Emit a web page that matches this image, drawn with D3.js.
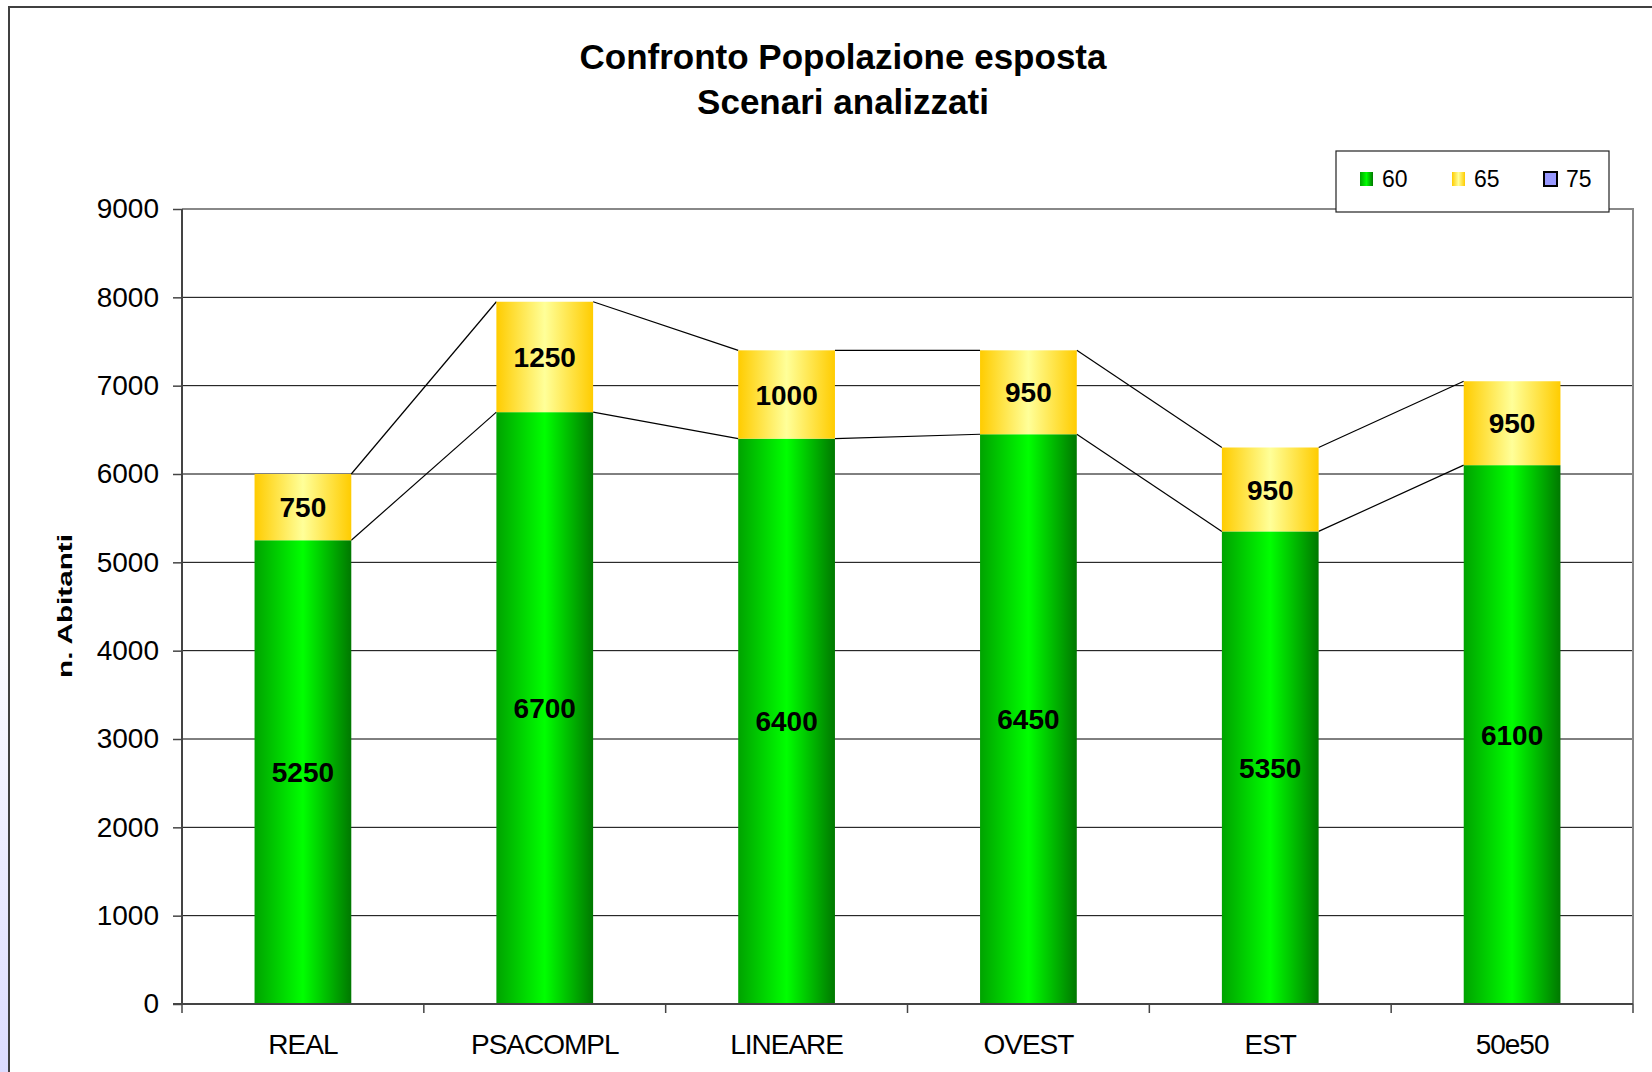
<!DOCTYPE html>
<html>
<head>
<meta charset="utf-8">
<script src="https://cdn.jsdelivr.net/npm/d3@7"></script>
<style>
  html, body { margin: 0; padding: 0; background: #fff; }
  svg { display: block; font-family: "Liberation Sans", Arial, sans-serif; }
</style>
</head>
<body>
<svg id="chart" width="1652" height="1072"></svg>
<script>
// data
var categories = ['REAL', 'PSACOMPL', 'LINEARE', 'OVEST', 'EST', '50e50'];
var serie60 = [5250, 6700, 6400, 6450, 5350, 6100];
var serie65 = [750, 1250, 1000, 950, 950, 950];
var serie75 = [0, 0, 0, 0, 0, 0];
var seriesNames = ['60', '65', '75'];
var yTicks = [0, 1000, 2000, 3000, 4000, 5000, 6000, 7000, 8000, 9000];

var svg = d3.select('#chart');
var W = 1652, H = 1072;
var plot = {left: 182, right: 1633, top: 209, bottom: 1004};

var defs = svg.append('defs');

function hGrad(id, stops){
    var g = defs.append('linearGradient').attr('id', id)
        .attr('x1', '0%').attr('x2', '100%').attr('y1', '0%').attr('y2', '0%');
    stops.forEach(function(s){
        g.append('stop').attr('offset', s[0]).attr('stop-color', s[1]);
    });
}
hGrad('gGreen', [['0%', '#00a300'], ['50%', '#00ff00'], ['100%', '#007800']]);
hGrad('gYellow', [['0%', '#ffcc00'], ['50%', '#ffff99'], ['100%', '#ffcc00']]);

var side = defs.append('linearGradient').attr('id', 'gSide')
    .attr('x1', '0%').attr('x2', '0%').attr('y1', '0%').attr('y2', '100%');
side.append('stop').attr('offset', '55%').attr('stop-color', '#ffffff');
side.append('stop').attr('offset', '100%').attr('stop-color', '#dcdcff');

// side strip + outer frame
svg.append('rect').attr('x', 0).attr('y', 0).attr('width', 9).attr('height', H)
    .attr('fill', 'url(#gSide)');
svg.append('path')
    .attr('d', 'M9,' + H + 'V7H' + W)
    .attr('fill', 'none').attr('stroke', '#404040').attr('stroke-width', 2);

// title
var title = svg.append('text').attr('text-anchor', 'middle')
    .attr('font-weight', 'bold').attr('font-size', 35).attr('fill', '#000');
title.append('tspan').attr('x', 843).attr('y', 69).text('Confronto Popolazione esposta');
title.append('tspan').attr('x', 843).attr('y', 114).text('Scenari analizzati');

// scales
var x = d3.scaleBand().domain(categories).range([plot.left, plot.right])
    .paddingInner(0.6).paddingOuter(0.3);
var y = d3.scaleLinear().domain([0, 9000]).range([plot.bottom, plot.top]);

// gridlines
svg.append('g').selectAll('line').data(yTicks.slice(1, -1)).enter().append('line')
    .attr('x1', plot.left).attr('x2', plot.right)
    .attr('y1', function(d){ return y(d); }).attr('y2', function(d){ return y(d); })
    .attr('stroke', '#000').attr('stroke-width', 1);

// plot area top/right border
svg.append('path')
    .attr('d', 'M' + plot.left + ',' + plot.top + 'H' + plot.right + 'V' + plot.bottom)
    .attr('fill', 'none').attr('stroke', '#888').attr('stroke-width', 2);

// stacked data
var rows = categories.map(function(c, i){
    return {cat: c, v60: serie60[i], v65: serie65[i], v75: serie75[i]};
});
var stack = d3.stack().keys(['v60', 'v65'])(rows);
var fills = ['url(#gGreen)', 'url(#gYellow)'];

// series lines
stack.forEach(function(layer){
    var segs = [];
    for (var i = 0; i < layer.length - 1; i++) {
        var a = layer[i], b = layer[i + 1];
        segs.push([[x(a.data.cat) + x.bandwidth(), y(a[1])], [x(b.data.cat), y(b[1])]]);
    }
    svg.append('g').selectAll('line').data(segs).enter().append('line')
        .attr('x1', function(s){ return s[0][0]; }).attr('y1', function(s){ return s[0][1]; })
        .attr('x2', function(s){ return s[1][0]; }).attr('y2', function(s){ return s[1][1]; })
        .attr('stroke', '#000').attr('stroke-width', 1.2);
});

// bars
stack.forEach(function(layer, li){
    svg.append('g').selectAll('rect').data(layer).enter().append('rect')
        .attr('x', function(d){ return x(d.data.cat); })
        .attr('width', x.bandwidth())
        .attr('y', function(d){ return y(d[1]); })
        .attr('height', function(d){ return y(d[0]) - y(d[1]); })
        .attr('fill', fills[li]);
});

// data labels
stack.forEach(function(layer){
    svg.append('g').selectAll('text').data(layer).enter().append('text')
        .attr('x', function(d){ return x(d.data.cat) + x.bandwidth() / 2; })
        .attr('y', function(d){ return (y(d[0]) + y(d[1])) / 2; })
        .attr('dy', '0.36em')
        .attr('text-anchor', 'middle').attr('font-weight', 'bold').attr('font-size', 28)
        .text(function(d){ return d[1] - d[0]; });
});

// y axis
var yAxis = svg.append('g').attr('transform', 'translate(' + plot.left + ',0)')
    .call(d3.axisLeft(y).tickValues(yTicks).tickFormat(d3.format('d'))
        .tickSize(9).tickPadding(14));
yAxis.select('.domain').attr('stroke', '#444').attr('stroke-width', 2)
    .attr('d', 'M0,' + plot.top + 'V' + plot.bottom);
yAxis.selectAll('.tick line').attr('stroke', '#444').attr('stroke-width', 1.5);
yAxis.selectAll('.tick text').attr('font-size', 28).attr('fill', '#000')
    .attr('font-family', '"Liberation Sans", Arial, sans-serif');

// x axis
var xAxis = svg.append('g').attr('transform', 'translate(0,' + plot.bottom + ')')
    .call(d3.axisBottom(x).tickSize(0).tickPadding(30));
xAxis.select('.domain').attr('stroke', '#444').attr('stroke-width', 2)
    .attr('d', 'M' + (plot.left - 9) + ',0H' + plot.right);
xAxis.selectAll('.tick text').attr('font-size', 28).attr('fill', '#000')
    .attr('letter-spacing', -1)
    .attr('font-family', '"Liberation Sans", Arial, sans-serif');
// category separators
var step = x.step();
var seps = d3.range(categories.length + 1).map(function(i){
    return x(categories[0]) - x.paddingOuter() * step + i * step;
});
xAxis.selectAll('line.sep').data(seps).enter().append('line').attr('class', 'sep')
    .attr('x1', function(d){ return d; }).attr('x2', function(d){ return d; })
    .attr('y1', 0).attr('y2', 9).attr('stroke', '#444').attr('stroke-width', 1.5);

// y axis title (stretched along its baseline, as in the original)
svg.append('text').attr('transform', 'translate(72,606) rotate(-90)')
    .attr('text-anchor', 'middle').attr('font-weight', 'bold').attr('font-size', 21)
    .attr('textLength', 144).attr('lengthAdjust', 'spacingAndGlyphs')
    .text('n. Abitanti');

// legend
var lg = svg.append('g').attr('transform', 'translate(1336,151)');
lg.append('rect').attr('width', 273).attr('height', 61)
    .attr('fill', '#fff').attr('stroke', '#222').attr('stroke-width', 1.2);
var legFills = ['url(#gGreen)', 'url(#gYellow)', '#9999ff'];
var legX = [24, 116, 208];
seriesNames.forEach(function(n, i){
    var it = lg.append('g').attr('transform', 'translate(' + legX[i] + ',21)');
    it.append('rect').attr('width', 13).attr('height', 14).attr('fill', legFills[i])
        .attr('stroke', i === 2 ? '#000' : 'none').attr('stroke-width', 2);
    it.append('text').attr('x', 22).attr('y', 7).attr('dy', '0.36em')
        .attr('font-size', 23).text(n);
});
</script>
</body>
</html>
